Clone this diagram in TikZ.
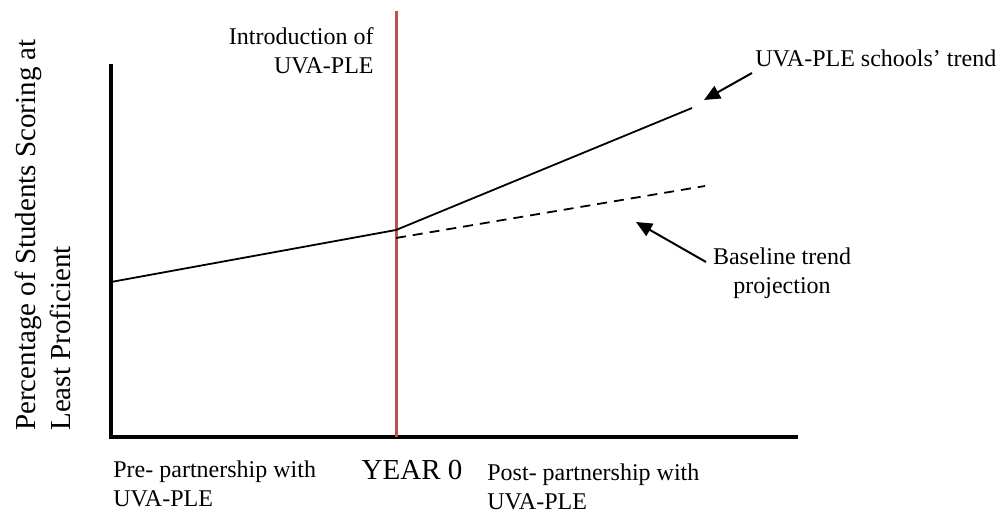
\documentclass[tikz,border=0pt]{standalone}
\usepackage{fontspec}
\setmainfont{Liberation Serif}
\usetikzlibrary{arrows.meta}
\definecolor{rojo}{HTML}{C0504D}
\tikzset{
  texto/.style={inner sep=0pt, font=\fontsize{12}{14.5}\selectfont},
  grande/.style={inner sep=0pt, font=\fontsize{14.5}{17.5}\selectfont},
  flecha/.style={line width=1pt, -{Triangle[length=8pt,width=7pt]}}
}
\begin{document}
\begin{tikzpicture}[x=0.5pt, y=-0.5pt]
    \useasboundingbox (0,0) rectangle (1002,512);
    % Ejes
    \coordinate (o) at (111,437);
    \coordinate (ytop) at (111,64);
    \coordinate (xfin) at (798,437);
    \draw[line width=1.6pt] (ytop) -- (o) -- (xfin);
    % Línea roja (año 0)
    \coordinate (rtop) at (396,11);
    \coordinate (rbot) at (396,437);
    \draw[rojo, line width=1.5pt] (rtop) -- (rbot);
    % Tendencias
    \coordinate (inicio) at (111,282);
    \coordinate (cero) at (396,230);
    \coordinate (fin) at (692,108);
    \coordinate (cerob) at (396,238);
    \coordinate (finb) at (705,186);
    \draw[line width=0.9pt] (inicio) -- (cero) -- (fin);
    \draw[line width=0.9pt, dash pattern=on 5pt off 3.5pt] (cerob) -- (finb);
    % Textos
    \node[texto, align=right, anchor=east] (intro) at (374,51) {Introduction of\\UVA-PLE};
    \node[texto, anchor=west] (tend) at (755,58) {UVA-PLE schools’ trend};
    \node[texto, align=center] (base) at (782,273) {Baseline trend\\projection};
    \node[texto, align=left, anchor=west] (pre) at (113,484) {Pre- partnership with\\UVA-PLE};
    \node[grande] (year) at (412,470) {YEAR 0};
    \node[texto, align=left, anchor=west] (post) at (487,487) {Post- partnership with\\UVA-PLE};
    \node[grande, rotate=90, align=left] (ylab) at (43,235) {Percentage of Students Scoring at\\Least Proficient};
    % Flechas
    \coordinate (a1) at (752,73);
    \coordinate (p1) at (704,100);
    \coordinate (a2) at (706,262);
    \coordinate (p2) at (636,222);
    \draw[flecha] (a1) -- (p1);
    \draw[flecha] (a2) -- (p2);
\end{tikzpicture}
\end{document}
